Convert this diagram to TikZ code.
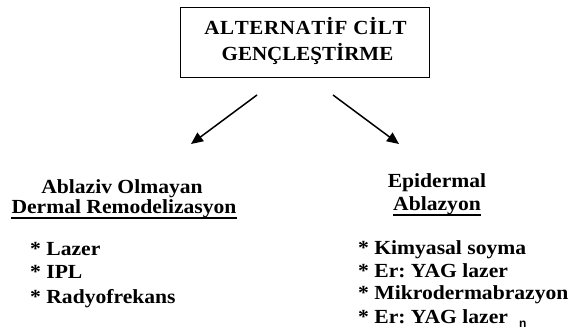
\documentclass[tikz,border=0pt]{standalone}
\usepackage{fontspec}
\newfontfamily\tbold{Liberation Serif Bold}[FakeStretch=1.08]
\newfontfamily\ttwo{Liberation Serif Bold}[FakeStretch=1.05]
\newfontfamily\tone{Liberation Serif Bold}[FakeStretch=1.05,Kerning=Off,LetterSpace=3]
\newfontfamily\smallsans{Liberation Sans Bold}
\usetikzlibrary{arrows.meta}
\frenchspacing
\begin{document}
\begin{tikzpicture}[x=1pt,y=-1pt,
  txt/.style={inner sep=0pt,font=\fontsize{20}{23}\selectfont\tbold},
  item/.style={txt,anchor=base west},
  head/.style={txt,anchor=base},
  arr/.style={line width=1.5pt,-{Triangle[length=12pt,width=10.5pt]}},
  uline/.style={line width=1.3pt}]
\useasboundingbox (0,0) rectangle (572,330);
\draw[line width=1pt] (180,7) rectangle (429,77);
\node[head,font=\fontsize{20}{23}\selectfont\tone] (t1) at (305.5,34) {ALTERNATİF CİLT};
\node[head,font=\fontsize{20}{23}\selectfont\ttwo] (t2) at (307.5,60) {GENÇLEŞTİRME};
\coordinate (ls) at (257,95);
\coordinate (le) at (191,144);
\coordinate (rs) at (333,95);
\coordinate (re) at (399,144);
\draw[arr] (ls) -- (le);
\draw[arr] (rs) -- (re);
% left
\node[head] (l1) at (122,193) {Ablaziv Olmayan};
\node[head] (l2) at (124,213) {Dermal Remodelizasyon};
\draw[uline] ([yshift=-5pt]l2.base west) -- ([yshift=-5pt]l2.base east);
\node[item] (li1) at (30,255) {* Lazer};
\node[item] (li2) at (30,278) {* IPL};
\node[item] (li3) at (30,303) {* Radyofrekans};
% right
\node[head] (r1) at (437,187) {Epidermal};
\node[head] (r2) at (437,210) {Ablazyon};
\draw[uline] ([yshift=-5pt]r2.base west) -- ([yshift=-5pt]r2.base east);
\node[item] (ri1) at (358,254) {* Kimyasal soyma};
\node[item] (ri2) at (358,277) {* Er: YAG lazer};
\node[item] (ri3) at (358,299) {* Mikrodermabrazyon};
\node[item] (ri4) at (358,323) {* Er: YAG lazer};
\node[inner sep=0pt,anchor=base west,font=\fontsize{12}{12}\selectfont\smallsans] (nn) at (519,327) {n};
\end{tikzpicture}
\end{document}
